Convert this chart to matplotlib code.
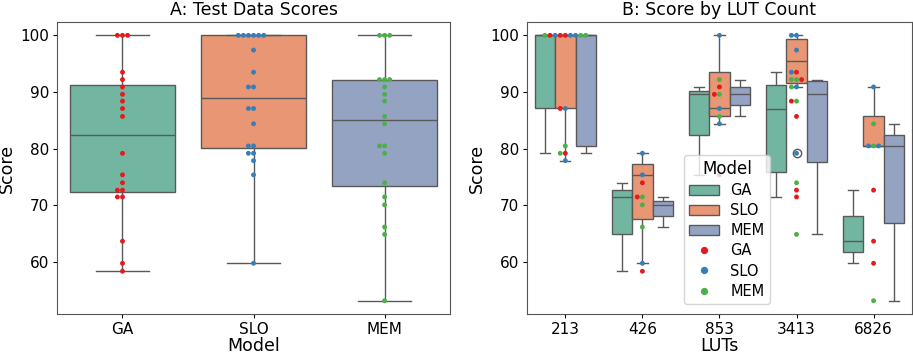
import matplotlib
matplotlib.use("Agg")
import matplotlib.pyplot as plt
import seaborn as sns
import pandas as pd
import numpy as np

models = ["GA", "SLO", "MEM"]
luts = [213, 426, 853, 3413, 6826]

# Scores per LUT count for each model
ga_213 = [100, 100, 100, 87.1, 79.2]
ga_426 = [74.0, 71.5, 58.4]
ga_853 = [90.9, 89.6, 75.4]
ga_3413 = [93.5, 92.2, 88.4, 85.7, 72.7, 71.5]
ga_6826 = [72.7, 63.7, 59.8]

slo_213 = [100, 100, 100, 87.1, 77.9]
slo_426 = [79.2, 75.4, 59.8]
slo_853 = [100, 87.1, 84.4]
slo_3413 = [100, 100, 97.4, 93.5, 90.9, 79.2]
slo_6826 = [90.9, 80.5, 80.5]

mem_213 = [100, 100, 100, 80.5, 79.2]
mem_426 = [71.5, 70.1, 66.2]
mem_853 = [92.2, 89.6, 85.7]
mem_3413 = [92.2, 92.2, 90.9, 88.4, 74.0, 64.9]
mem_6826 = [84.4, 80.5, 53.2]

data = {
    "GA": [ga_213, ga_426, ga_853, ga_3413, ga_6826],
    "SLO": [slo_213, slo_426, slo_853, slo_3413, slo_6826],
    "MEM": [mem_213, mem_426, mem_853, mem_3413, mem_6826],
}

rows = []
for m in models:
    for lut, vals in zip(luts, data[m]):
        for v in vals:
            rows.append({"Model": m, "LUTs": lut, "Score": v})
df = pd.DataFrame(rows)

box_pal = sns.color_palette("Set2", 3)
pt_pal = sns.color_palette("Set1", 3)

fig = plt.figure(figsize=(9.13, 3.56), dpi=100)
ax1 = fig.add_axes([0.0624, 0.118, 0.4306, 0.820])
ax2 = fig.add_axes([0.577, 0.118, 0.422, 0.820])

sns.boxplot(data=df, x="Model", y="Score", hue="Model", order=models,
            hue_order=models, palette=box_pal, ax=ax1, legend=False)
sns.swarmplot(data=df, x="Model", y="Score", hue="Model", order=models,
              hue_order=models, palette=pt_pal, size=3.5, ax=ax1, legend=False)

sns.boxplot(data=df, x="LUTs", y="Score", hue="Model", order=luts,
            hue_order=models, palette=box_pal, ax=ax2)
sns.swarmplot(data=df, x="LUTs", y="Score", hue="Model", order=luts,
              hue_order=models, palette=pt_pal, size=3.5, ax=ax2)

for ax, title, xl in [(ax1, "A: Test Data Scores", "Model"),
                      (ax2, "B: Score by LUT Count", "LUTs")]:
    ax.set_title(title, fontsize=12.5, pad=5)
    ax.set_xlabel(xl, fontsize=12.5, labelpad=0)
    ax.set_ylabel("Score", fontsize=12.5, labelpad=3)
    ax.tick_params(labelsize=11, length=3, pad=2.5)
    for s in ax.spines.values():
        s.set_color("#555555")

h, l = ax2.get_legend_handles_labels()
ax2.legend(h, l, title="Model", loc="lower left",
           bbox_to_anchor=(0.39, 0.01), fontsize=10.5, title_fontsize=12,
           handlelength=2.0, borderpad=0.35, labelspacing=0.35,
           markerscale=1.5)

fig.savefig("out.png", dpi=100)
